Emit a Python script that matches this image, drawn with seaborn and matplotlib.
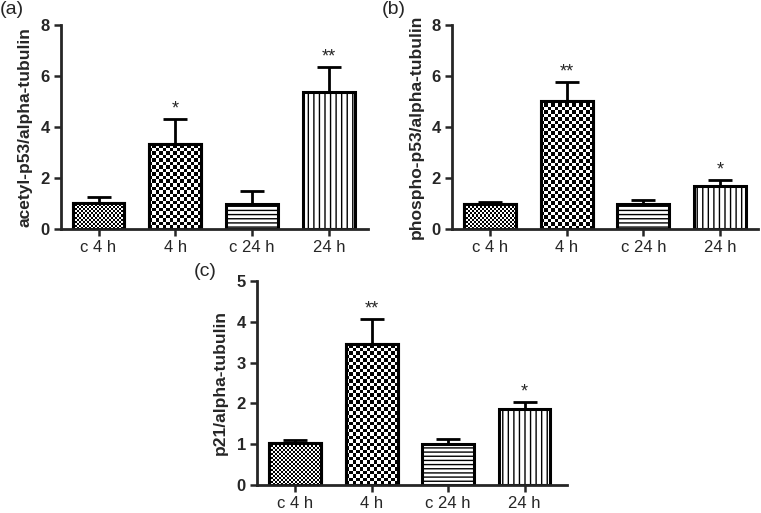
import numpy as np
import pandas as pd
import matplotlib
matplotlib.use("Agg")
import matplotlib.pyplot as plt
import seaborn as sns

# data (bar means and upper error bar lengths)
groups = ["c 4 h", "4 h", "c 24 h", "24 h"]

acetyl_mean = [1.02, 3.33, 0.98, 5.38]
acetyl_err = [0.23, 0.97, 0.51, 0.97]
acetyl_stars = ["", "*", "", "**"]

phospho_mean = [0.98, 5.02, 1.00, 1.69]
phospho_err = [0.06, 0.74, 0.12, 0.23]
phospho_stars = ["", "**", "", "*"]

p21_mean = [1.02, 3.45, 1.00, 1.86]
p21_err = [0.08, 0.62, 0.13, 0.18]
p21_stars = ["", "**", "", "*"]

sns.set_theme(style="ticks")
plt.rcParams["font.family"] = ["Liberation Sans", "DejaVu Sans"]
plt.rcParams["hatch.linewidth"] = 1.0

fig = plt.figure(figsize=(7.61, 5.13), dpi=100)


def checker_fill(ax, patch, cell_px):
    # fill a bar with a black/white checkerboard clipped to the bar
    fig.canvas.draw()
    x0, w, h = patch.get_x(), patch.get_width(), patch.get_height()
    p0 = ax.transData.transform((x0, 0))
    p1 = ax.transData.transform((x0 + w, h))
    nx = max(1, int(round(abs(p1[0] - p0[0]) / cell_px)))
    ny = max(1, int(round(abs(p1[1] - p0[1]) / cell_px)))
    board = np.indices((ny, nx)).sum(axis=0) % 2
    xlim, ylim = ax.get_xlim(), ax.get_ylim()
    im = ax.imshow(board, cmap="gray", extent=(x0, x0 + w, 0, h),
                   origin="lower", interpolation="nearest", aspect="auto",
                   zorder=patch.get_zorder() + 0.1)
    im.set_clip_path(patch)
    ax.set_xlim(xlim)
    ax.set_ylim(ylim)
    # redraw the outline on top
    edge = plt.Rectangle((x0, 0), w, h, fill=False, edgecolor="black",
                         linewidth=2.2, zorder=patch.get_zorder() + 0.2)
    ax.add_patch(edge)


def panel(rect, means, errs, stars, ylabel, ymax, yticks, tag, tag_xy, xlim):
    ax = fig.add_axes(rect)
    df = pd.DataFrame({"group": groups, "value": means})
    sns.barplot(data=df, x="group", y="value", ax=ax, color="white",
                edgecolor="black", linewidth=2.2, width=0.675,
                errorbar=None, saturation=1)
    bars = ax.patches[:4]
    ax.errorbar(range(4), means, yerr=[np.zeros(4), errs], fmt="none",
                ecolor="black", elinewidth=2, capsize=8.5, capthick=2,
                zorder=0)
    ax.set_xlim(xlim)
    ax.set_ylim(0, ymax)
    ax.set_yticks(yticks)
    sns.despine(ax=ax)
    for s in ["left", "bottom"]:
        ax.spines[s].set_linewidth(2)
    ax.tick_params(axis="both", direction="out", length=5, width=1.8,
                   labelsize=12, pad=3)
    for lab in ax.get_yticklabels():
        lab.set_fontweight("bold")
    ax.set_xlabel("")
    ax.set_ylabel(ylabel, fontsize=12.5, fontweight="bold", labelpad=6)

    bars[2].set_hatch("----")
    bars[3].set_hatch("|||")
    checker_fill(ax, bars[0], 2.0)
    checker_fill(ax, bars[1], 3.5)

    for i, s in enumerate(stars):
        if s:
            ax.text(i, means[i] + errs[i] + ymax * 0.008, s, ha="center",
                    va="bottom", fontsize=13)
    fig.text(tag_xy[0], tag_xy[1], tag, fontsize=14, ha="left", va="top")
    return ax


panel([0.080, 0.5536, 0.4036, 0.3977], acetyl_mean, acetyl_err, acetyl_stars,
      "acetyl-p53/alpha-tubulin", 8, [0, 2, 4, 6, 8], "(a)", (0.0, 0.998),
      (-0.49, 3.51))
panel([0.594, 0.5536, 0.402, 0.3977], phospho_mean, phospho_err, phospho_stars,
      "phospho-p53/alpha-tubulin", 8, [0, 2, 4, 6, 8], "(b)", (0.502, 0.998),
      (-0.49, 3.49))
panel([0.3377, 0.0546, 0.407, 0.3977], p21_mean, p21_err, p21_stars,
      "p21/alpha-tubulin", 5, [0, 1, 2, 3, 4, 5], "(c)", (0.255, 0.487),
      (-0.5, 3.55))

fig.savefig("out.png", dpi=100)
